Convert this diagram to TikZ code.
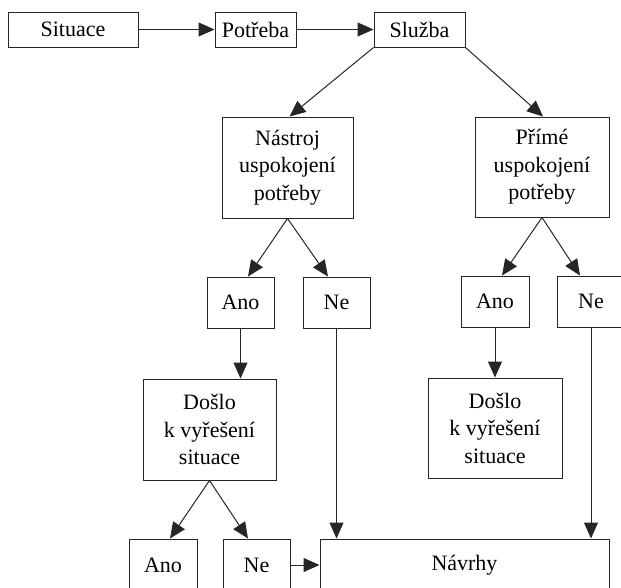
\documentclass[tikz,border=0pt]{standalone}
\usepackage{fontspec}
\setmainfont{Liberation Serif}
\usetikzlibrary{arrows.meta}
\begin{document}
\begin{tikzpicture}[x=1pt,y=-1pt,
  box/.style={draw=black!85, line width=1pt, inner sep=0pt, align=center,
    font=\fontsize{22}{27.5}\selectfont},
  arr/.style={draw=black!85, line width=1pt, -{Triangle[length=16pt,width=14pt]}}]
\useasboundingbox (0,0) rectangle (621,587);
\clip (0,0) rectangle (621,587);
\fill[white] (0,0) rectangle (621,587);
% top row
\node[box, minimum width=130pt, minimum height=35pt] (sit) at (73,29.5) {Situace};
\node[box, minimum width=81pt, minimum height=35pt] (pot) at (255.5,29.5) {Potřeba};
\node[box, minimum width=91pt, minimum height=35pt] (slu) at (419.5,29.5) {Služba};
% second row
\node[box, minimum width=131pt, minimum height=101pt] (nas) at (287.5,167.5) {Nástroj\\uspokojení\\potřeby};
\node[box, minimum width=134pt, minimum height=100pt] (pri) at (542,167) {Přímé\\uspokojení\\potřeby};
% third row
\node[box, minimum width=67pt, minimum height=51pt] (anoL) at (240.5,302.5) {Ano};
\node[box, minimum width=67pt, minimum height=51pt] (neL) at (336.5,302.5) {Ne};
\node[box, minimum width=68pt, minimum height=51pt] (anoR) at (495,301.5) {Ano};
\node[box, minimum width=68pt, minimum height=51pt] (neR) at (591,301.5) {Ne};
% fourth row
\node[box, minimum width=133pt, minimum height=101pt] (dosL) at (209.5,429.5) {Došlo\\k vyřešení\\situace};
\node[box, minimum width=134pt, minimum height=100pt] (dosR) at (495,428) {Došlo\\k vyřešení\\situace};
% bottom row
\node[box, minimum width=68pt, minimum height=52pt] (anoB) at (163,565) {Ano};
\node[box, minimum width=67pt, minimum height=52pt] (neB) at (256.5,565) {Ne};
\node[box, minimum width=289pt, minimum height=52pt] (nav) at (464.5,565) {Návrhy};
% connectors
\draw[arr] (sit.east) -- (pot.west);
\draw[arr] (pot.east) -- (slu.west);
\draw[arr] (slu.south west) -- ([xshift=2pt]nas.north);
\draw[arr] (slu.south east) -- ([xshift=1pt]pri.north);
\draw[arr] (nas.south) -- ([xshift=7.5pt]anoL.north);
\draw[arr] (nas.south) -- ([xshift=-8.5pt]neL.north);
\draw[arr] (pri.south) -- ([xshift=7pt]anoR.north);
\draw[arr] (pri.south) -- ([xshift=-11pt]neR.north);
\draw[arr] (anoL.south) -- (anoL.south |- dosL.north);
\draw[arr] (anoR.south) -- (dosR.north);
\draw[arr] (dosL.south) -- ([xshift=7pt]anoB.north);
\draw[arr] (dosL.south) -- ([xshift=-8.5pt]neB.north);
\draw[arr] (neL.south) -- (neL.south |- nav.north);
\draw[arr] (neR.south) -- (neR.south |- nav.north);
\draw[arr] (neB.east) -- (nav.west);
\end{tikzpicture}
\end{document}
